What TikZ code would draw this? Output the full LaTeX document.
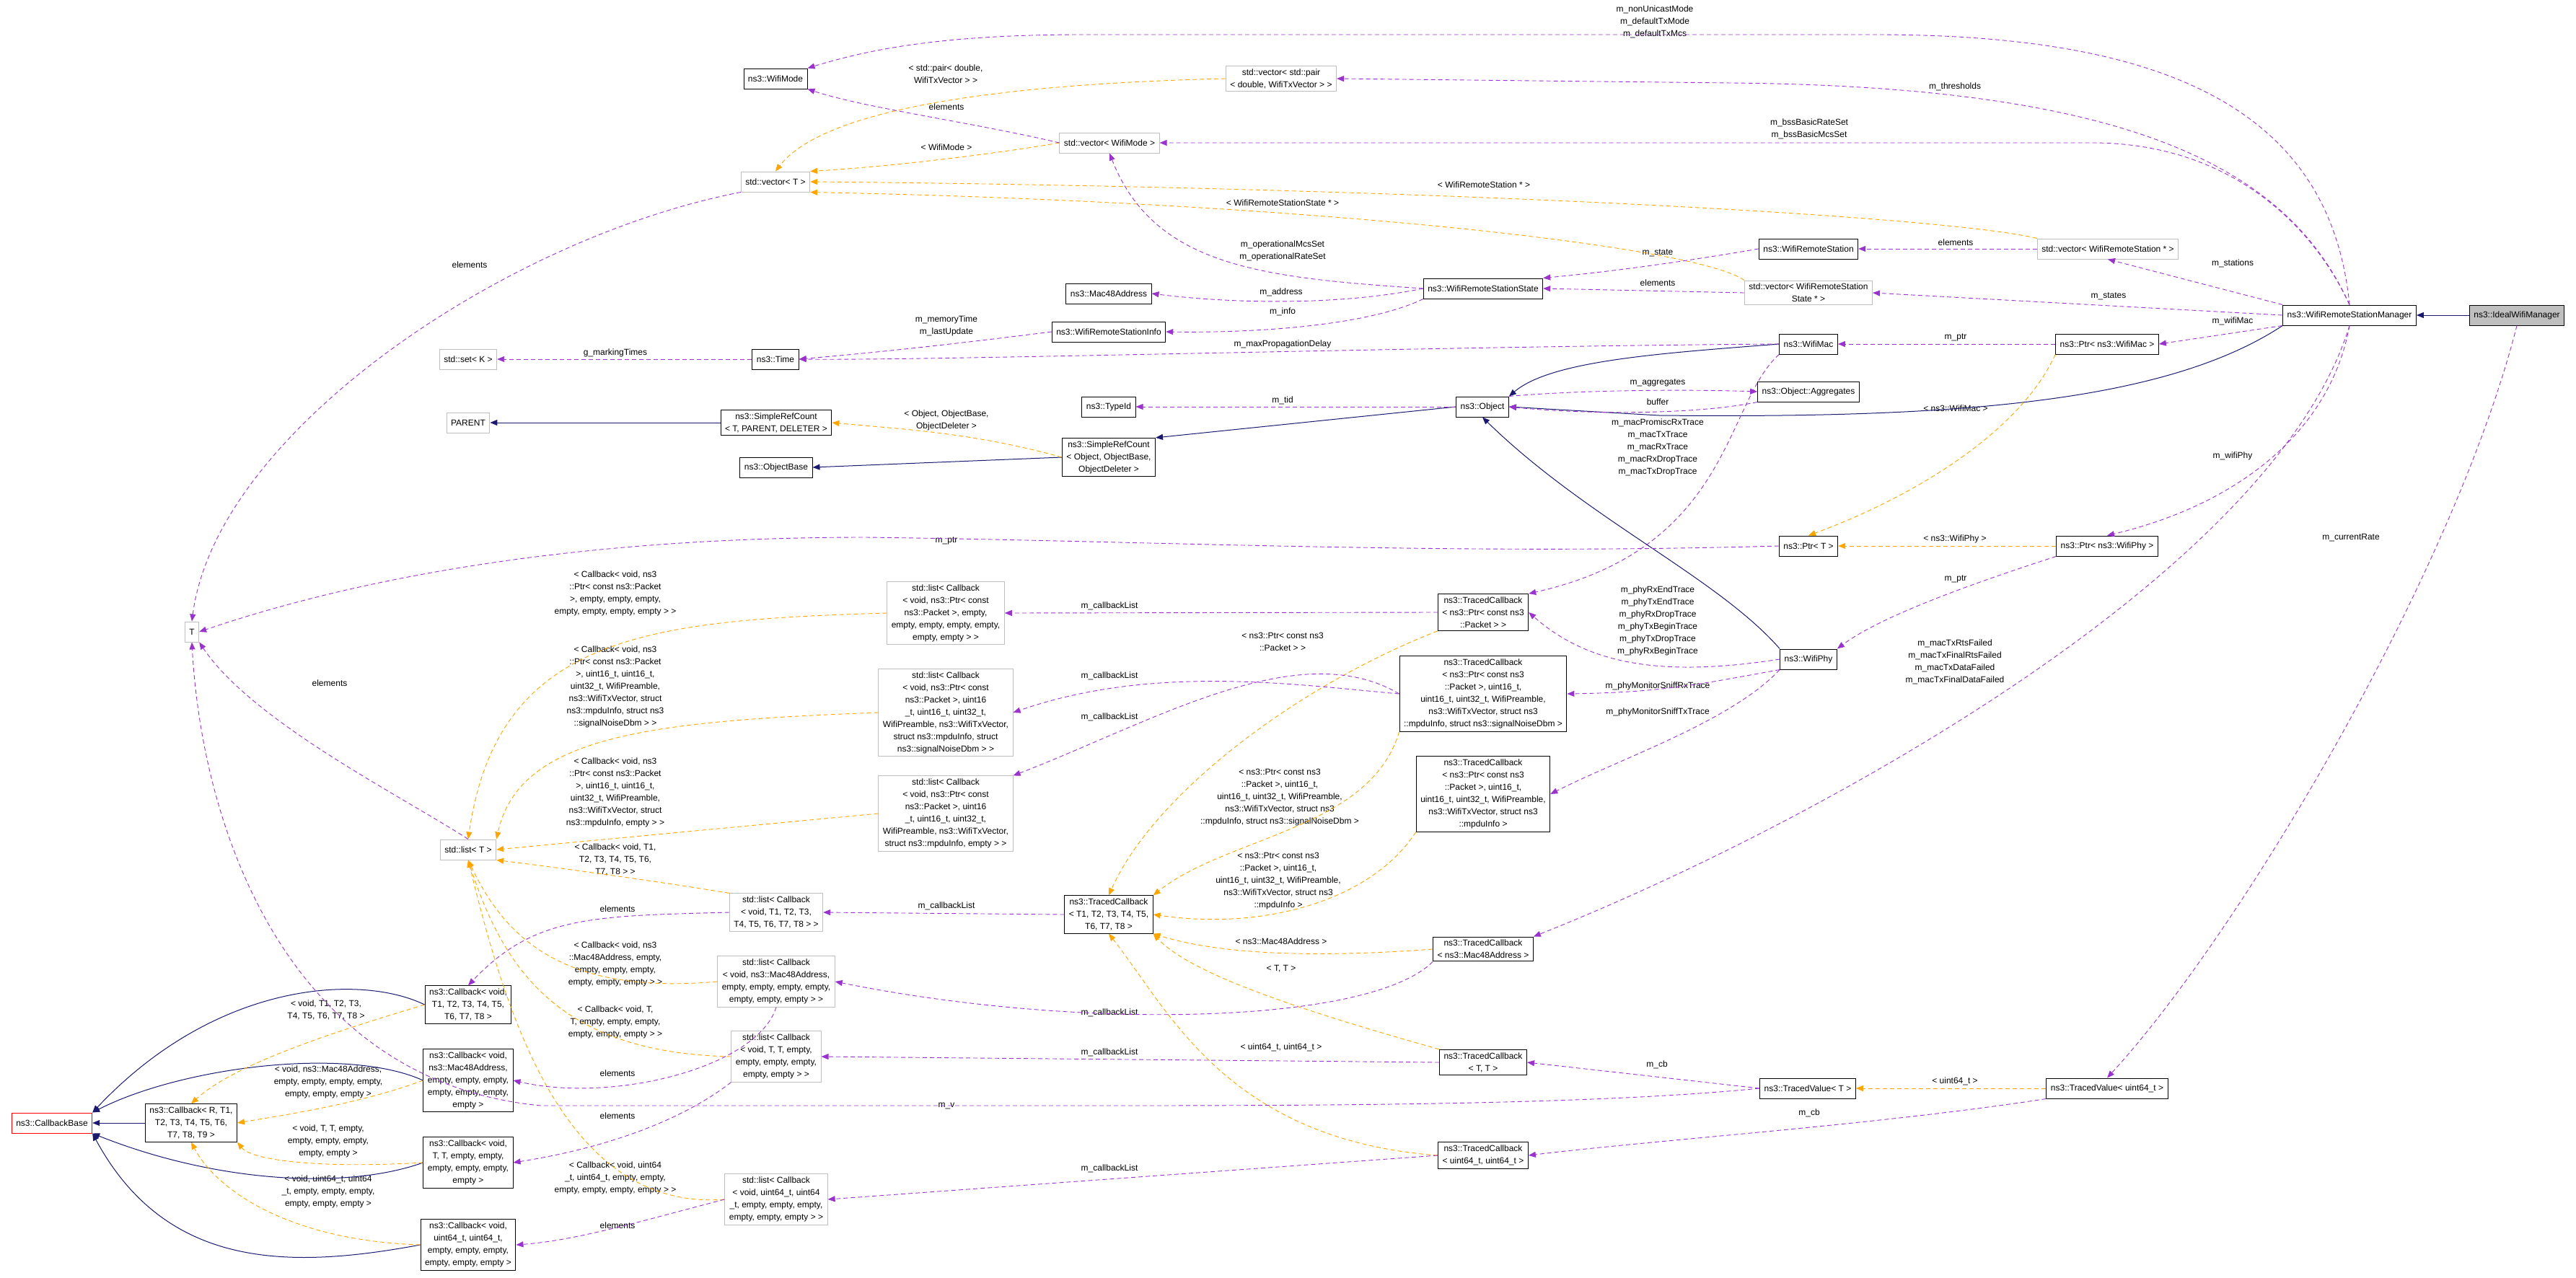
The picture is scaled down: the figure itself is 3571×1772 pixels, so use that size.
\documentclass[tikz,border=0pt]{standalone}
\usepackage{fontspec}
\setmainfont{Liberation Sans}
\usetikzlibrary{arrows.meta}
\definecolor{upur}{RGB}{154,50,205}
\definecolor{torg}{RGB}{255,165,0}
\definecolor{inhb}{RGB}{25,25,112}
\definecolor{ugray}{RGB}{191,191,191}
\tikzset{
  every node/.style={font=\fontsize{12}{17}\selectfont, text=black},
  bx/.style={draw=black, fill=white, align=center, inner xsep=6pt, inner ysep=4pt, minimum height=28pt, line width=1pt},
  gbx/.style={bx, draw=ugray},
  lbl/.style={align=center, inner sep=0pt},
  use/.style={draw=upur, dashed, dash pattern=on 6pt off 4pt, line width=0.9pt, -{Triangle[length=10pt,width=8pt]}},
  tpl/.style={draw=torg, dashed, dash pattern=on 6pt off 4pt, line width=0.9pt, -{Triangle[length=10pt,width=8pt]}},
  inh/.style={draw=inhb, line width=1pt, -{Triangle[length=10pt,width=8pt]}},
}
\begin{document}
\begin{tikzpicture}[x=1pt,y=-1pt]
\useasboundingbox (0,0) rectangle (3571,1772);
% ---------- nodes ----------
\node[bx] (wifimode) at (1075,109) {ns3::WifiMode};
\node[gbx] (vecT) at (1075,252) {std::vector< T >};
\node[gbx] (setK) at (649,498) {std::set< K >};
\node[bx] (time) at (1075,498) {ns3::Time};
\node[gbx] (parent) at (649,586) {PARENT};
\node[bx] (srcT) at (1076,586) {ns3::SimpleRefCount\\< T, PARENT, DELETER >};
\node[bx] (objbase) at (1076,648) {ns3::ObjectBase};
\node[gbx] (T) at (266,876) {T};
\node[gbx] (listT) at (649,1178) {std::list< T >};
\node[gbx] (vecpair) at (1776,109) {std::vector< std::pair\\< double, WifiTxVector > >};
\node[gbx] (vecmode) at (1538,198) {std::vector< WifiMode >};
\node[bx] (rsstate) at (2056,400) {ns3::WifiRemoteStationState};
\node[bx] (mac48) at (1537,407) {ns3::Mac48Address};
\node[bx] (rsinfo) at (1537,460) {ns3::WifiRemoteStationInfo};
\node[bx] (object) at (2055,564) {ns3::Object};
\node[bx] (typeid) at (1537,564) {ns3::TypeId};
\node[bx] (srcobj) at (1537,634) {ns3::SimpleRefCount\\< Object, ObjectBase,\\ObjectDeleter >};
\node[bx] (rstation) at (2507,345) {ns3::WifiRemoteStation};
\node[gbx] (vecrs) at (2922,345) {std::vector< WifiRemoteStation * >};
\node[gbx] (vecrss) at (2507,406) {std::vector< WifiRemoteStation\\State * >};
\node[bx] (mgr) at (3257,437) {ns3::WifiRemoteStationManager};
\node[bx, fill=ugray] (ideal) at (3489,437) {ns3::IdealWifiManager};
\node[bx] (wifimac) at (2507,477) {ns3::WifiMac};
\node[bx] (ptrmac) at (2921,477) {ns3::Ptr< ns3::WifiMac >};
\node[bx] (aggr) at (2507,543) {ns3::Object::Aggregates};
\node[bx] (ptrT) at (2507,757) {ns3::Ptr< T >};
\node[bx] (ptrphy) at (2921,757) {ns3::Ptr< ns3::WifiPhy >};
\node[bx] (wifiphy) at (2507,914) {ns3::WifiPhy};
\node[gbx] (listA) at (1311,850) {std::list< Callback\\< void, ns3::Ptr< const\\ns3::Packet >, empty,\\empty, empty, empty, empty,\\empty, empty > >};
\node[bx] (tcpkt) at (2056,849) {ns3::TracedCallback\\< ns3::Ptr< const ns3\\::Packet > >};
\node[gbx] (listB) at (1311,988) {std::list< Callback\\< void, ns3::Ptr< const\\ns3::Packet >, uint16\\\_t, uint16\_t, uint32\_t,\\WifiPreamble, ns3::WifiTxVector,\\struct ns3::mpduInfo, struct\\ns3::signalNoiseDbm > >};
\node[bx] (tcsnr) at (2056,962) {ns3::TracedCallback\\< ns3::Ptr< const ns3\\::Packet >, uint16\_t,\\uint16\_t, uint32\_t, WifiPreamble,\\ns3::WifiTxVector, struct ns3\\::mpduInfo, struct ns3::signalNoiseDbm >};
\node[gbx] (listC) at (1311,1128) {std::list< Callback\\< void, ns3::Ptr< const\\ns3::Packet >, uint16\\\_t, uint16\_t, uint32\_t,\\WifiPreamble, ns3::WifiTxVector,\\struct ns3::mpduInfo, empty > >};
\node[bx] (tcmpdu) at (2056,1101) {ns3::TracedCallback\\< ns3::Ptr< const ns3\\::Packet >, uint16\_t,\\uint16\_t, uint32\_t, WifiPreamble,\\ns3::WifiTxVector, struct ns3\\::mpduInfo >};
\node[bx] (tcT8) at (1537,1268) {ns3::TracedCallback\\< T1, T2, T3, T4, T5,\\T6, T7, T8 >};
\node[bx] (tcmac) at (2056,1316) {ns3::TracedCallback\\< ns3::Mac48Address >};
\node[bx] (tcTT) at (2056,1473) {ns3::TracedCallback\\< T, T >};
\node[bx] (tvT) at (2506,1509) {ns3::TracedValue< T >};
\node[bx] (tvu) at (2921,1509) {ns3::TracedValue< uint64\_t >};
\node[bx] (tcu) at (2056,1602) {ns3::TracedCallback\\< uint64\_t, uint64\_t >};
\node[gbx] (listD) at (1076,1265) {std::list< Callback\\< void, T1, T2, T3,\\T4, T5, T6, T7, T8 > >};
\node[gbx] (listE) at (1076,1361) {std::list< Callback\\< void, ns3::Mac48Address,\\empty, empty, empty, empty,\\empty, empty, empty > >};
\node[gbx] (listF) at (1076,1465) {std::list< Callback\\< void, T, T, empty,\\empty, empty, empty,\\empty, empty > >};
\node[gbx] (listG) at (1076,1663) {std::list< Callback\\< void, uint64\_t, uint64\\\_t, empty, empty, empty,\\empty, empty, empty > >};
\node[bx] (cbT8) at (649,1393) {ns3::Callback< void,\\T1, T2, T3, T4, T5,\\T6, T7, T8 >};
\node[bx] (cbmac) at (649,1498) {ns3::Callback< void,\\ns3::Mac48Address,\\empty, empty, empty,\\empty, empty, empty,\\empty >};
\node[bx] (cbTT) at (649,1612) {ns3::Callback< void,\\T, T, empty, empty,\\empty, empty, empty,\\empty >};
\node[bx] (cbu) at (649,1726) {ns3::Callback< void,\\uint64\_t, uint64\_t,\\empty, empty, empty,\\empty, empty, empty >};
\node[bx] (cbR) at (265,1557) {ns3::Callback< R, T1,\\T2, T3, T4, T5, T6,\\T7, T8, T9 >};
\node[bx, draw=red] (cbbase) at (72,1557) {ns3::CallbackBase};
% ---------- labels ----------
\node[lbl] (l1) at (2294,30) {m\_nonUnicastMode\\m\_defaultTxMode\\m\_defaultTxMcs};
\node[lbl] (l2) at (1311,103) {< std::pair< double,\\WifiTxVector > >};
\node[lbl] (l3) at (1312,148) {elements};
\node[lbl] (l4) at (1312,204) {< WifiMode >};
\node[lbl] (l5) at (2710,120) {m\_thresholds};
\node[lbl] (l6) at (2508,179) {m\_bssBasicRateSet\\m\_bssBasicMcsSet};
\node[lbl] (l7) at (2057,256) {< WifiRemoteStation * >};
\node[lbl] (l8) at (1778,281) {< WifiRemoteStationState * >};
\node[lbl] (l9) at (1778,348) {m\_operationalMcsSet\\m\_operationalRateSet};
\node[lbl] (l10) at (2298,351) {m\_state};
\node[lbl] (l11) at (2298,392) {elements};
\node[lbl] (l12) at (2711,336) {elements};
\node[lbl] (l13) at (3095,365) {m\_stations};
\node[lbl] (l14) at (2923,411) {m\_states};
\node[lbl] (l15) at (1776,405) {m\_address};
\node[lbl] (l16) at (1778,432) {m\_info};
\node[lbl] (l17) at (1312,452) {m\_memoryTime\\m\_lastUpdate};
\node[lbl] (l18) at (1778,477) {m\_maxPropagationDelay};
\node[lbl] (l19) at (853,489) {g\_markingTimes};
\node[lbl] (l20) at (651,367) {elements};
\node[lbl] (l21) at (3095,445) {m\_wifiMac};
\node[lbl] (l22) at (2711,468) {m\_ptr};
\node[lbl] (l23) at (2298,531) {m\_aggregates};
\node[lbl] (l24) at (2298,557) {buffer};
\node[lbl] (l25) at (1778,555) {m\_tid};
\node[lbl] (l26) at (1312,583) {< Object, ObjectBase,\\ObjectDeleter >};
\node[lbl] (l27) at (2711,566) {< ns3::WifiMac >};
\node[lbl] (l28) at (2298,620) {m\_macPromiscRxTrace\\m\_macTxTrace\\m\_macRxTrace\\m\_macRxDropTrace\\m\_macTxDropTrace};
\node[lbl] (l29) at (3095,632) {m\_wifiPhy};
\node[lbl] (l30) at (2710,747) {< ns3::WifiPhy >};
\node[lbl] (l31) at (3259,746) {m\_currentRate};
\node[lbl] (l32) at (1312,750) {m\_ptr};
\node[lbl] (l33) at (2711,803) {m\_ptr};
\node[lbl] (l34) at (853,823) {< Callback< void, ns3\\::Ptr< const ns3::Packet\\>, empty, empty, empty,\\empty, empty, empty, empty > >};
\node[lbl] (l35) at (1538,840) {m\_callbackList};
\node[lbl] (l36) at (2298,861) {m\_phyRxEndTrace\\m\_phyTxEndTrace\\m\_phyRxDropTrace\\m\_phyTxBeginTrace\\m\_phyTxDropTrace\\m\_phyRxBeginTrace};
\node[lbl] (l37) at (1778,890) {< ns3::Ptr< const ns3\\::Packet > >};
\node[lbl] (l38) at (2710,918) {m\_macTxRtsFailed\\m\_macTxFinalRtsFailed\\m\_macTxDataFailed\\m\_macTxFinalDataFailed};
\node[lbl] (l39) at (457,947) {elements};
\node[lbl] (l40) at (853,952) {< Callback< void, ns3\\::Ptr< const ns3::Packet\\>, uint16\_t, uint16\_t,\\uint32\_t, WifiPreamble,\\ns3::WifiTxVector, struct\\ns3::mpduInfo, struct ns3\\::signalNoiseDbm > >};
\node[lbl] (l41) at (1538,937) {m\_callbackList};
\node[lbl] (l42) at (2298,951) {m\_phyMonitorSniffRxTrace};
\node[lbl] (l43) at (2298,987) {m\_phyMonitorSniffTxTrace};
\node[lbl] (l44) at (1538,994) {m\_callbackList};
\node[lbl] (l45) at (853,1099) {< Callback< void, ns3\\::Ptr< const ns3::Packet\\>, uint16\_t, uint16\_t,\\uint32\_t, WifiPreamble,\\ns3::WifiTxVector, struct\\ns3::mpduInfo, empty > >};
\node[lbl] (l46) at (1774,1106) {< ns3::Ptr< const ns3\\::Packet >, uint16\_t,\\uint16\_t, uint32\_t, WifiPreamble,\\ns3::WifiTxVector, struct ns3\\::mpduInfo, struct ns3::signalNoiseDbm >};
\node[lbl] (l47) at (853,1192) {< Callback< void, T1,\\T2, T3, T4, T5, T6,\\T7, T8 > >};
\node[lbl] (l48) at (1772,1222) {< ns3::Ptr< const ns3\\::Packet >, uint16\_t,\\uint16\_t, uint32\_t, WifiPreamble,\\ns3::WifiTxVector, struct ns3\\::mpduInfo >};
\node[lbl] (l49) at (1312,1256) {m\_callbackList};
\node[lbl] (l50) at (856,1260) {elements};
\node[lbl] (l51) at (1776,1305) {< ns3::Mac48Address >};
\node[lbl] (l52) at (853,1337) {< Callback< void, ns3\\::Mac48Address, empty,\\empty, empty, empty,\\empty, empty, empty > >};
\node[lbl] (l53) at (1776,1343) {< T, T >};
\node[lbl] (l54) at (452,1400) {< void, T1, T2, T3,\\T4, T5, T6, T7, T8 >};
\node[lbl] (l55) at (1538,1404) {m\_callbackList};
\node[lbl] (l56) at (853,1417) {< Callback< void, T,\\T, empty, empty, empty,\\empty, empty, empty > >};
\node[lbl] (l57) at (1776,1452) {< uint64\_t, uint64\_t >};
\node[lbl] (l58) at (1538,1459) {m\_callbackList};
\node[lbl] (l59) at (2297,1476) {m\_cb};
\node[lbl] (l60) at (856,1488) {elements};
\node[lbl] (l61) at (455,1500) {< void, ns3::Mac48Address,\\empty, empty, empty, empty,\\empty, empty, empty >};
\node[lbl] (l62) at (2710,1499) {< uint64\_t >};
\node[lbl] (l63) at (1312,1533) {m\_v};
\node[lbl] (l64) at (2508,1543) {m\_cb};
\node[lbl] (l65) at (856,1547) {elements};
\node[lbl] (l66) at (455,1582) {< void, T, T, empty,\\empty, empty, empty,\\empty, empty >};
\node[lbl] (l67) at (1538,1620) {m\_callbackList};
\node[lbl] (l68) at (853,1633) {< Callback< void, uint64\\\_t, uint64\_t, empty, empty,\\empty, empty, empty, empty > >};
\node[lbl] (l69) at (455,1652) {< void, uint64\_t, uint64\\\_t, empty, empty, empty,\\empty, empty, empty >};
\node[lbl] (l70) at (856,1699) {elements};
% ---------- inheritance ----------
\draw[inh] (ideal) -- (mgr);
\draw[inh] (mgr.south west) .. controls (3000,560) and (2700,580) .. (2300,576) -- (object.east);
\draw[inh] (wifimac.west) .. controls (2300,490) and (2150,500) .. (object.north east);
\draw[inh] (wifiphy.north west) .. controls (2380,800) and (2200,720) .. (object.south);
\draw[inh] (object.west) -- (srcobj.north east);
\draw[inh] (srcobj.west) -- (objbase.east);
\draw[inh] (srcT.west) -- (parent.east);
\draw[inh] (cbR) -- (cbbase);
\draw[inh] (cbT8.west) .. controls (500,1350) and (300,1360) .. (cbbase.north east);
\draw[inh] (cbmac.west) .. controls (480,1450) and (250,1480) .. (cbbase.north east);
\draw[inh] (cbTT.west) .. controls (480,1650) and (300,1640) .. (cbbase.south east);
\draw[inh] (cbu.west) .. controls (400,1760) and (230,1760) .. (cbbase.south east);
% ---------- templates ----------
\draw[tpl] (vecpair.west) .. controls (1450,115) and (1150,140) .. (vecT.north);
\draw[tpl] (vecmode.west) .. controls (1400,210) and (1250,230) .. (vecT.north east);
\draw[tpl] (vecrs.north west) .. controls (2700,300) and (2000,260) .. (vecT.east);
\draw[tpl] (vecrss.north west) .. controls (2350,340) and (1800,280) .. (vecT.south east);
\draw[tpl] (srcobj.west) .. controls (1350,600) and (1250,595) .. (srcT.east);
\draw[tpl] (ptrmac.south west) .. controls (2800,600) and (2650,690) .. (ptrT.north);
\draw[tpl] (ptrphy) -- (ptrT);
\draw[tpl] (listA.west) .. controls (900,860) and (690,880) .. (listT.north);
\draw[tpl] (listB.west) .. controls (900,1000) and (720,1020) .. (listT.north east);
\draw[tpl] (listC.west) -- (listT.east);
\draw[tpl] (listD.north west) .. controls (900,1220) and (750,1200) .. (listT.south east);
\draw[tpl] (listE.west) .. controls (780,1380) and (700,1300) .. (listT.south);
\draw[tpl] (listF.west) .. controls (780,1460) and (700,1350) .. (listT.south);
\draw[tpl] (listG.west) .. controls (780,1680) and (700,1400) .. (listT.south);
\draw[tpl] (tcpkt.south west) .. controls (1800,950) and (1600,1100) .. (tcT8.north);
\draw[tpl] (tcsnr.south west) .. controls (1900,1150) and (1700,1160) .. (tcT8.north east);
\draw[tpl] (tcmpdu.south west) .. controls (1900,1250) and (1750,1290) .. (tcT8.east);
\draw[tpl] (tcmac.west) .. controls (1800,1330) and (1680,1320) .. (tcT8.south east);
\draw[tpl] (tcTT.north west) .. controls (1800,1400) and (1650,1350) .. (tcT8.south east);
\draw[tpl] (tcu.west) .. controls (1700,1580) and (1620,1400) .. (tcT8.south);
\draw[tpl] (tvu) -- (tvT);
\draw[tpl] (cbT8.west) .. controls (500,1420) and (330,1470) .. (cbR.north);
\draw[tpl] (cbmac.west) .. controls (500,1530) and (400,1545) .. (cbR.east);
\draw[tpl] (cbTT.west) .. controls (450,1620) and (350,1610) .. (cbR.south east);
\draw[tpl] (cbu.west) .. controls (400,1720) and (300,1650) .. (cbR.south);
% ---------- usage ----------
\draw[use] (mgr.north) .. controls (3230,150) and (3000,48) .. (2600,48) -- (1500,48) .. controls (1300,48) and (1200,70) .. (wifimode.north east);
\draw[use] (mgr.north) .. controls (3170,230) and (2950,120) .. (2400,115) -- (vecpair.east);
\draw[use] (mgr.north) .. controls (3200,300) and (3080,198) .. (2900,198) -- (vecmode.east);
\draw[use] (mgr.north west) -- (vecrs.south);
\draw[use] (mgr.west) -- (vecrss.east);
\draw[use] (mgr.south west) -- (ptrmac.east);
\draw[use] (mgr.south) .. controls (3230,600) and (3100,700) .. (ptrphy.north);
\draw[use] (mgr.south) .. controls (3150,800) and (2500,1150) .. (tcmac.north east);
\draw[use] (ideal.south) .. controls (3400,800) and (3100,1300) .. (tvu.north);
\draw[use] (vecmode.west) .. controls (1350,170) and (1200,150) .. (wifimode.south east);
\draw[use] (vecT.south west) .. controls (700,330) and (300,600) .. (T.north);
\draw[use] (vecrs) -- (rstation);
\draw[use] (rstation.west) .. controls (2350,360) and (2250,375) .. (rsstate.north east);
\draw[use] (vecrss.west) -- (rsstate.east);
\draw[use] (rsstate.west) .. controls (1750,385) and (1600,370) .. (vecmode.south);
\draw[use] (rsstate.west) .. controls (1850,425) and (1700,420) .. (mac48.east);
\draw[use] (rsstate.south west) .. controls (1900,450) and (1750,462) .. (rsinfo.east);
\draw[use] (rsinfo.west) .. controls (1300,480) and (1200,490) .. (time.east);
\draw[use] (wifimac.west) .. controls (2000,480) and (1300,500) .. (time.east);
\draw[use] (time) -- (setK);
\draw[use] (object) -- (typeid);
\draw[use] (object.north east) .. controls (2200,540) and (2350,540) .. (aggr.west);
\draw[use] (aggr.south west) .. controls (2350,575) and (2200,575) .. (object.east);
\draw[use] (ptrmac) -- (wifimac);
\draw[use] (wifimac.south west) .. controls (2390,560) and (2400,760) .. (tcpkt.north east);
\draw[use] (wifiphy.west) .. controls (2300,940) and (2200,920) .. (tcpkt.east);
\draw[use] (wifiphy.south west) .. controls (2350,950) and (2300,960) .. (tcsnr.east);
\draw[use] (wifiphy.south west) .. controls (2400,1000) and (2250,1050) .. (tcmpdu.east);
\draw[use] (ptrphy.south west) .. controls (2700,820) and (2600,860) .. (wifiphy.north east);
\draw[use] (ptrT.west) .. controls (2000,770) and (1600,750) .. (1200,745) .. controls (800,745) and (500,800) .. (T.east);
\draw[use] (tcpkt.west) -- (listA.east);
\draw[use] (tcsnr.west) .. controls (1800,950) and (1600,920) .. (listB.east);
\draw[use] (tcsnr.west) .. controls (1800,880) and (1600,1000) .. (listC.north east);
\draw[use] (tcT8.west) -- (listD.east);
\draw[use] (tcmac.south west) .. controls (1900,1420) and (1500,1430) .. (listE.east);
\draw[use] (tcTT.west) -- (listF.east);
\draw[use] (tcu.west) -- (listG.east);
\draw[use] (tvT.west) -- (tcTT.east);
\draw[use] (tvT.west) .. controls (2200,1533) and (1800,1533) .. (1500,1533) -- (750,1533) .. controls (400,1500) and (280,1150) .. (T.south);
\draw[use] (tvu.south west) .. controls (2600,1560) and (2300,1580) .. (tcu.east);
\draw[use] (listT.north) .. controls (550,1100) and (350,1000) .. (T.south east);
\draw[use] (listD.west) .. controls (820,1270) and (740,1270) .. (cbT8.north);
\draw[use] (listE.south) .. controls (1050,1480) and (850,1530) .. (cbmac.east);
\draw[use] (listF.south west) .. controls (950,1550) and (850,1590) .. (cbTT.east);
\draw[use] (listG.west) .. controls (900,1690) and (800,1720) .. (cbu.east);
\end{tikzpicture}
\end{document}
